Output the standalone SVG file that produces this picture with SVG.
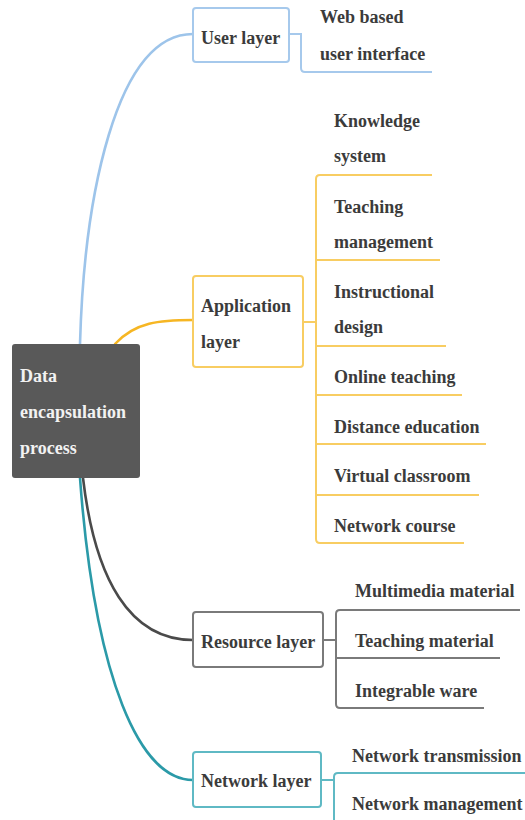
<svg xmlns="http://www.w3.org/2000/svg" width="525" height="820" viewBox="0 0 525 820">
  <!-- curved links from the root to each layer, then branch lines to leaf items -->
  <g id="connectors" fill="none">
    <g stroke-width="2.6" stroke-linecap="round">
      <path stroke="#9dc4ea" d="M80,344 C84,200 115,34 193,34"/>
      <path stroke="#f6b623" d="M115,344 C135,322 160,320 193,320"/>
      <path stroke="#4a4a4a" d="M83,478 C95,580 130,640 193,640"/>
      <path stroke="#2b9aa8" d="M80,478 C95,680 140,780 193,780"/>
    </g>
    <g stroke-width="2">
      <path stroke="#a6c9ec" d="M289,34 H301 V68 Q301,72 305,72 H432"/>
      <g stroke="#f8cd62">
        <path d="M303,322 H316"/>
        <path d="M432,175 H320 Q316,175 316,179 V539 Q316,543 320,543 H464"/>
        <path d="M316,260 H440"/>
        <path d="M316,346 H446"/>
        <path d="M316,395 H462"/>
        <path d="M316,444 H486"/>
        <path d="M316,495 H479"/>
      </g>
      <g stroke="#7a7a7a">
        <path d="M323,640 H336"/>
        <path d="M520,610 H340 Q336,610 336,614 V704 Q336,708 340,708 H484"/>
        <path d="M336,658 H500"/>
      </g>
      <g stroke="#5fb9c4">
        <path d="M321,780 H334"/>
        <path d="M525,773 H338 Q334,773 334,777 V822"/>
      </g>
    </g>
  </g>

  <g id="root">
    <rect x="12" y="344" width="128" height="134" rx="3" fill="#595959"/>
    <g style="font-family:'Liberation Serif',serif;font-weight:bold;font-size:18px;fill:#f2f2f2">
      <text x="20" y="382">Data</text>
      <text x="20" y="418">encapsulation</text>
      <text x="20" y="454">process</text>
    </g>
  </g>

  <g style="font-family:'Liberation Serif',serif;font-weight:bold;font-size:18px;fill:#3b3b3b">
    <g id="user-layer">
      <rect x="193" y="8" width="96" height="54" rx="3" style="fill:#ffffff;stroke:#a6c9ec;stroke-width:2"/>
      <text x="201" y="44">User layer</text>
    </g>
    <g id="web-ui">
      <text x="320" y="23">Web based</text>
      <text x="320" y="60">user interface</text>
    </g>

    <g id="application-layer">
      <rect x="193" y="276" width="110" height="91" rx="3" style="fill:#ffffff;stroke:#f8cd62;stroke-width:2"/>
      <text x="201" y="312">Application</text>
      <text x="201" y="348">layer</text>
    </g>
    <g id="knowledge-system">
      <text x="334" y="127">Knowledge</text>
      <text x="334" y="162">system</text>
    </g>
    <g id="teaching-management">
      <text x="334" y="213">Teaching</text>
      <text x="334" y="248">management</text>
    </g>
    <g id="instructional-design">
      <text x="334" y="298">Instructional</text>
      <text x="334" y="333">design</text>
    </g>
    <g id="online-teaching"><text x="334" y="383">Online teaching</text></g>
    <g id="distance-education"><text x="334" y="433">Distance education</text></g>
    <g id="virtual-classroom"><text x="334" y="482">Virtual classroom</text></g>
    <g id="network-course"><text x="334" y="532">Network course</text></g>

    <g id="resource-layer">
      <rect x="193" y="612" width="130" height="55" rx="3" style="fill:#ffffff;stroke:#7a7a7a;stroke-width:2"/>
      <text x="201" y="648">Resource layer</text>
    </g>
    <g id="multimedia-material"><text x="355" y="597">Multimedia material</text></g>
    <g id="teaching-material"><text x="355" y="647">Teaching material</text></g>
    <g id="integrable-ware"><text x="355" y="697">Integrable ware</text></g>

    <g id="network-layer">
      <rect x="193" y="752" width="128" height="55" rx="3" style="fill:#ffffff;stroke:#5fb9c4;stroke-width:2"/>
      <text x="201" y="787">Network layer</text>
    </g>
    <g id="network-transmission"><text x="352" y="762">Network transmission</text></g>
    <g id="network-management"><text x="352" y="810">Network management</text></g>
  </g>
</svg>
